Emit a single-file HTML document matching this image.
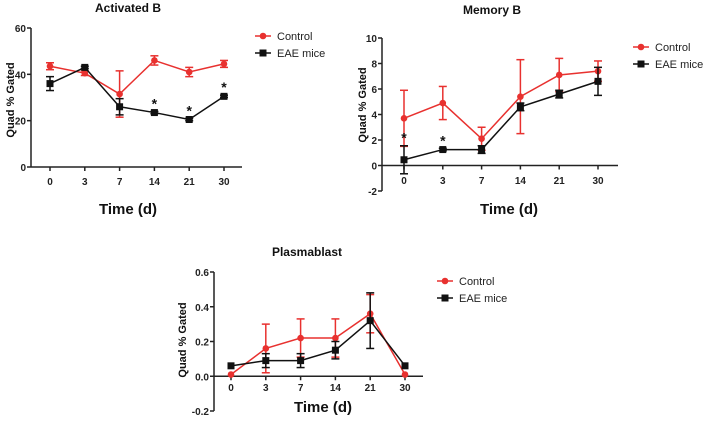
<!DOCTYPE html>
<html><head><meta charset="utf-8"><style>
body{margin:0;background:#fff;width:709px;height:417px;overflow:hidden}
svg{font-family:"Liberation Sans",Arial,sans-serif}
</style></head><body>
<svg id="s" width="709" height="417"></svg>
<script>
const categories=["0","3","7","14","21","30"];
const actCtrl=[43.5,40.5,31.5,46,41,44.5];
const actCtrlErr=[1.5,1,10,2,2,1.5];
const actEae=[36,43,26,23.5,20.5,30.5];
const actEaeErr=[3,0.5,3.5,0.5,0.5,0.5];
const actStars=[false,false,false,true,true,true];
const actTicks=[0,20,40,60];
const memCtrl=[3.7,4.9,2.1,5.4,7.1,7.4];
const memCtrlErr=[2.2,1.3,0.9,2.9,1.3,0.8];
const memEae=[0.45,1.25,1.25,4.6,5.6,6.6];
const memEaeErr=[1.1,0.1,0.3,0.3,0.3,1.1];
const memStars=[true,true,false,false,false,false];
const memTicks=[-2,0,2,4,6,8,10];
const plaCtrl=[0.01,0.16,0.22,0.22,0.36,0.01];
const plaCtrlErr=[0,0.14,0.11,0.11,0.11,0];
const plaEae=[0.06,0.09,0.09,0.15,0.32,0.06];
const plaEaeErr=[0,0.04,0.04,0.05,0.16,0];
const plaStars=[false,false,false,false,false,false];
const plaTicks=[-0.2,0,0.2,0.4,0.6];
const RED="#e8312f",BLK="#111";
const svg=document.getElementById('s');
const NS="http://www.w3.org/2000/svg";
function mk(t,a,p){const e=document.createElementNS(NS,t);for(const k in a)e.setAttribute(k,a[k]);(p||svg).appendChild(e);return e;}
function chart(o){
  const g=mk('g',{});
  
  
  const y=v=>o.y0+(v-o.ymin)/(o.ymax-o.ymin)*(o.y1-o.y0);
  const x=i=>o.x0+i*o.dx;
  mk('line',{x1:o.ax,x2:o.ax,y1:y(o.ymin),y2:y(o.ymax),stroke:'#222','stroke-width':1.5},g);
  o.ticks.forEach(t=>{
    mk('line',{x1:o.ax-4,x2:o.ax,y1:y(t),y2:y(t),stroke:'#222','stroke-width':1.5},g);
    const tx=mk('text',{x:o.ax-5,y:y(t)+4,'text-anchor':'end','font-size':10,'font-weight':'bold',fill:'#222'},g);
    tx.textContent=o.fmt(t);
  });
  const xy=y(o.xaxisAt);
  mk('line',{x1:o.ax,x2:o.xend,y1:xy,y2:xy,stroke:'#222','stroke-width':1.5},g);
  categories.forEach((c,i)=>{
    mk('line',{x1:x(i),x2:x(i),y1:xy,y2:xy+4,stroke:'#222','stroke-width':1.5},g);
    const tx=mk('text',{x:x(i),y:o.tickY,'text-anchor':'middle','font-size':10,'font-weight':'bold',fill:'#222'},g);
    tx.textContent=c;
  });
  const t=mk('text',{x:o.tx,y:o.ty,'text-anchor':'middle','font-size':12,'font-weight':'bold',fill:'#111'},g);
  
  t.textContent=o.title;
  const xt=mk('text',{x:o.xtx,y:o.xty,'text-anchor':'middle','font-size':15,'font-weight':'bold',fill:'#111'},g);
  
  xt.textContent='Time (d)';
  const yt=mk('text',{x:0,y:0,transform:`translate(${o.ytx},${o.yty}) rotate(-90)`,'text-anchor':'middle','font-size':11,'font-weight':'bold',fill:'#111'},g);
  
  yt.textContent='Quad % Gated';
  [[o.ctrl,o.ctrlErr,RED,'control'],[o.eae,o.eaeErr,BLK,'eae']].forEach(([vals,err,col,nm])=>{
    const pts=vals.map((v,i)=>x(i)+','+y(v)).join(' ');
    const pl=mk('polyline',{points:pts,fill:'none',stroke:col,'stroke-width':1.5},g);
    
    vals.forEach((v,i)=>{
      if(err[i]>0){
        const a=y(v+err[i]),b=y(v-err[i]);
        mk('line',{x1:x(i),x2:x(i),y1:a,y2:b,stroke:col,'stroke-width':1.5},g);
        mk('line',{x1:x(i)-4,x2:x(i)+4,y1:a,y2:a,stroke:col,'stroke-width':1.5},g);
        mk('line',{x1:x(i)-4,x2:x(i)+4,y1:b,y2:b,stroke:col,'stroke-width':1.5},g);
      }
      let m;
      if(nm==='control') m=mk('circle',{cx:x(i),cy:y(v),r:3.3,fill:col},g);
      else m=mk('rect',{x:x(i)-3.5,y:y(v)-3.5,width:7,height:7,fill:col},g);
      
    });
  });
  o.stars.forEach((s,i)=>{
    if(!s)return;
    const top=y(o.eae[i]+o.eaeErr[i]);
    const st=mk('text',{x:x(i),y:top-3,'text-anchor':'middle','font-size':14,'font-weight':'bold',fill:'#111'},g);
    
    st.textContent='*';
  });
  const lg=mk('g',{},g);
  
  [['Control',RED,0],['EAE mice',BLK,1]].forEach(([lab,col,k])=>{
    const ly=o.ly+k*17;
    mk('line',{x1:o.lx,x2:o.lx+16,y1:ly,y2:ly,stroke:col,'stroke-width':1.5},lg);
    if(k===0) mk('circle',{cx:o.lx+8,cy:ly,r:3.3,fill:col},lg);
    else mk('rect',{x:o.lx+4.5,y:ly-3.5,width:7,height:7,fill:col},lg);
    const lt=mk('text',{x:o.lx+22,y:ly+4,'font-size':11,fill:'#222'},lg);
    lt.textContent=lab;
  });
}
chart({name:'activated-b-chart',title:'Activated   B',ctrl:actCtrl,ctrlErr:actCtrlErr,eae:actEae,eaeErr:actEaeErr,stars:actStars,ticks:actTicks,
  ymin:0,ymax:60,y0:167,y1:28,ax:31,xaxisAt:0,xend:242,x0:50,dx:34.8,tickY:185,fmt:v=>v,
  tx:128,ty:12,xtx:128,xty:214,ytx:14,yty:100,lx:255,ly:36});
chart({name:'memory-b-chart',title:'Memory B',ctrl:memCtrl,ctrlErr:memCtrlErr,eae:memEae,eaeErr:memEaeErr,stars:memStars,ticks:memTicks,
  ymin:-2,ymax:10,y0:191,y1:38,ax:382,xaxisAt:0,xend:618,x0:404,dx:38.8,tickY:184,fmt:v=>v,
  tx:492,ty:14,xtx:509,xty:214,ytx:366,yty:105,lx:633,ly:47});
chart({name:'plasmablast-chart',title:'Plasmablast',ctrl:plaCtrl,ctrlErr:plaCtrlErr,eae:plaEae,eaeErr:plaEaeErr,stars:plaStars,ticks:plaTicks,
  ymin:-0.2,ymax:0.6,y0:411,y1:272,ax:214,xaxisAt:0,xend:423,x0:231,dx:34.8,tickY:391,fmt:v=>v.toFixed(1),
  tx:307,ty:256,xtx:323,xty:412,ytx:186,yty:340,lx:437,ly:281});
</script>
</body></html>
